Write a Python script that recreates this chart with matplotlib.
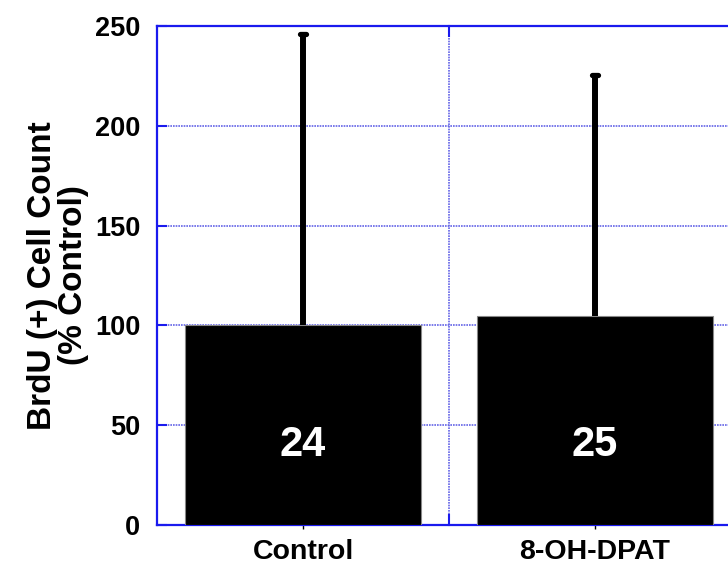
import matplotlib
matplotlib.use("Agg")
import matplotlib.pyplot as plt
import numpy as np

plt.rcParams['font.family'] = ['Liberation Sans', 'DejaVu Sans']

groups = ["Control", "8-OH-DPAT"]
means = [100.0, 104.5]
errors = [146.0, 121.0]
counts = ["24", "25"]
yticks = [0, 50, 100, 150, 200, 250]

fig = plt.figure(figsize=(7.28, 5.72), dpi=100)
W, H = 728, 572
left, right, top, bottom = 157, 741, 26, 525
ax = fig.add_axes([left / W, 1 - bottom / H, (right - left) / W, (bottom - top) / H])

x = np.arange(len(groups))
tops = np.array(means) + np.array(errors)
ax.bar(x, means, width=0.805, color="black", edgecolor="#888888", linewidth=0.8, zorder=3)
# upper-only error bars with rounded caps
ax.vlines(x, means, tops, color="black", linewidth=4.3, zorder=4)
ax.hlines(tops, x - 0.011, x + 0.011, color="black", linewidth=3.8,
          capstyle="round", zorder=4)

for xi, c in zip(x, counts):
    ax.text(xi, 40, c, color="white", fontsize=30, fontweight="bold",
            ha="center", va="center", zorder=5)

ax.set_xlim(-0.5, len(groups) - 0.5)
ax.set_ylim(0, 250)
ax.set_yticks(yticks)
ax.set_yticklabels([str(t) for t in yticks], fontsize=19.5, fontweight="bold")
ax.set_xticks(x)
ax.set_xticklabels(groups, fontsize=20.5, fontweight="bold")
ax.tick_params(axis="x", length=3, width=1, color="black", pad=7)
ax.tick_params(axis="y", direction="in", length=7, width=1.5, color="#1a1aee", pad=12)

# horizontal grid at each y tick, vertical line between groups
for t in yticks[1:-1]:
    ax.axhline(t, color="#6464e6", linestyle=(0, (1, 0.6)), linewidth=1.2, zorder=1)
ax.axvline(0.5, color="#6464e6", linestyle=(0, (1, 0.6)), linewidth=1.2, zorder=1)
ax.plot([0.5, 0.5], [250, 245], color="#1a1aee", linewidth=1.5, zorder=2, clip_on=False)
ax.plot([0.5, 0.5], [0, 5], color="#1a1aee", linewidth=1.5, zorder=2, clip_on=False)

for s in ax.spines.values():
    s.set_color("#1a1aee")
    s.set_linewidth(1.6)

ax.set_ylabel("BrdU (+) Cell Count\n(% Control)", fontsize=24, fontweight="bold",
              linespacing=1.0, labelpad=4)

fig.savefig("out.png", dpi=100)
